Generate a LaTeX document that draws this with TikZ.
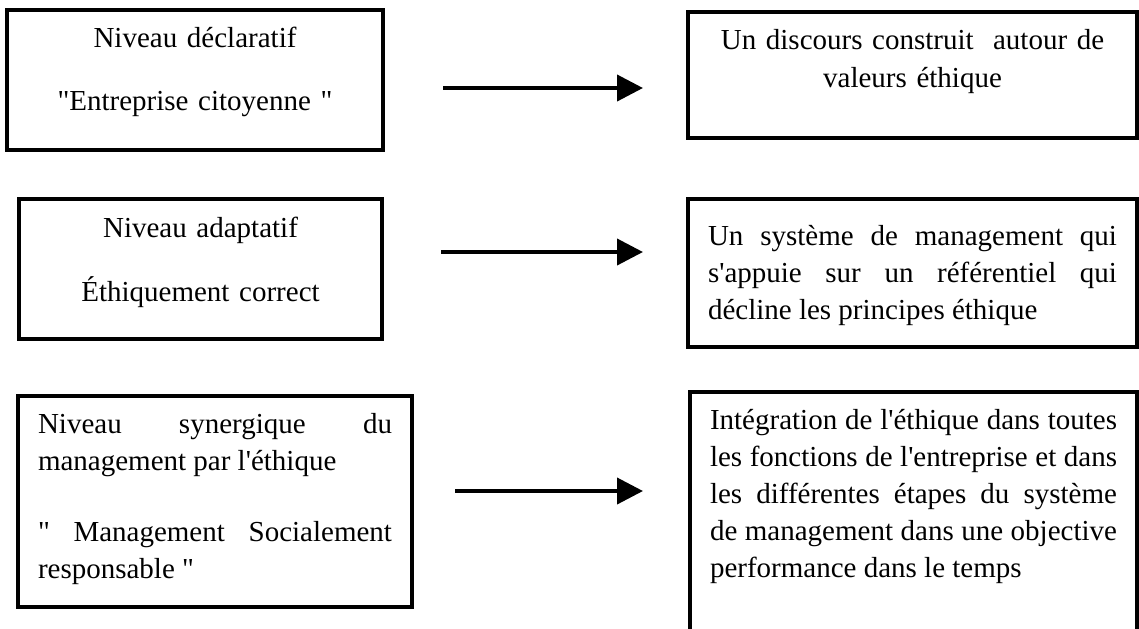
\documentclass[tikz,border=0pt]{standalone}
\usepackage{fontspec}
\setmainfont{Liberation Serif}[Ligatures=TeXOff]
\usetikzlibrary{arrows.meta}
\hyphenpenalty=10000
\tolerance=10000

\begin{document}
\begin{tikzpicture}[x=0.5pt, y=-0.5pt, >={Triangle[length=13pt, width=13pt]},
    cadre/.style={draw, line width=2pt, anchor=north west, outer sep=0pt, inner ysep=0pt,
        font=\fontsize{14.5}{18.5}\selectfont},
    fleche/.style={->, line width=2pt}]
\useasboundingbox (0, 0) rectangle (1139, 628);
\clip (0, 0) rectangle (1139, 628);
\node[cadre, inner xsep=5pt, text width=178pt, align=center, text height=18.5pt, text depth=51.5pt]
    (decl) at (7, 10) {Niveau déclaratif\\[13pt]"Entreprise citoyenne "};
\node[cadre, inner xsep=5pt, text width=214.5pt, align=center, text height=18.5pt, text depth=44.5pt]
    (discours) at (688, 12) {Un discours construit \ autour de\\[0.5pt]valeurs éthique};
\node[cadre, inner xsep=5pt, text width=171.5pt, align=center, text height=19pt, text depth=51pt]
    (adapt) at (19, 199) {Niveau adaptatif\\[13.5pt]Éthiquement correct};
\node[cadre, inner xsep=10pt, text width=204.5pt, align=justify, text height=23pt, text depth=51pt]
    (systeme) at (688, 199) {Un système de management qui\linebreak s'appuie sur un référentiel qui\linebreak décline les principes éthique};
\node[cadre, inner xsep=10pt, text width=177pt, align=justify, text height=18.5pt, text depth=87pt]
    (synerg) at (18, 396) {Niveau synergique du\linebreak management par l'éthique\\[17pt]" Management Socialement\linebreak responsable "};
\node[cadre, inner xsep=10pt, text width=203.5pt, align=justify, text height=18.5pt, text depth=105.5pt]
    (integr) at (690, 392) {Intégration de l'éthique dans toutes\linebreak les fonctions de l'entreprise et dans\linebreak les différentes étapes du système\linebreak de management dans une objective\linebreak performance dans le temps};
\coordinate (decl-out) at (443, 88);
\coordinate (discours-in) at (643, 88);
\coordinate (adapt-out) at (441, 252);
\coordinate (systeme-in) at (643, 252);
\coordinate (synerg-out) at (455, 491);
\coordinate (integr-in) at (643, 491);
\draw[fleche] (decl-out) -- (discours-in);
\draw[fleche] (adapt-out) -- (systeme-in);
\draw[fleche] (synerg-out) -- (integr-in);
\end{tikzpicture}
\end{document}
